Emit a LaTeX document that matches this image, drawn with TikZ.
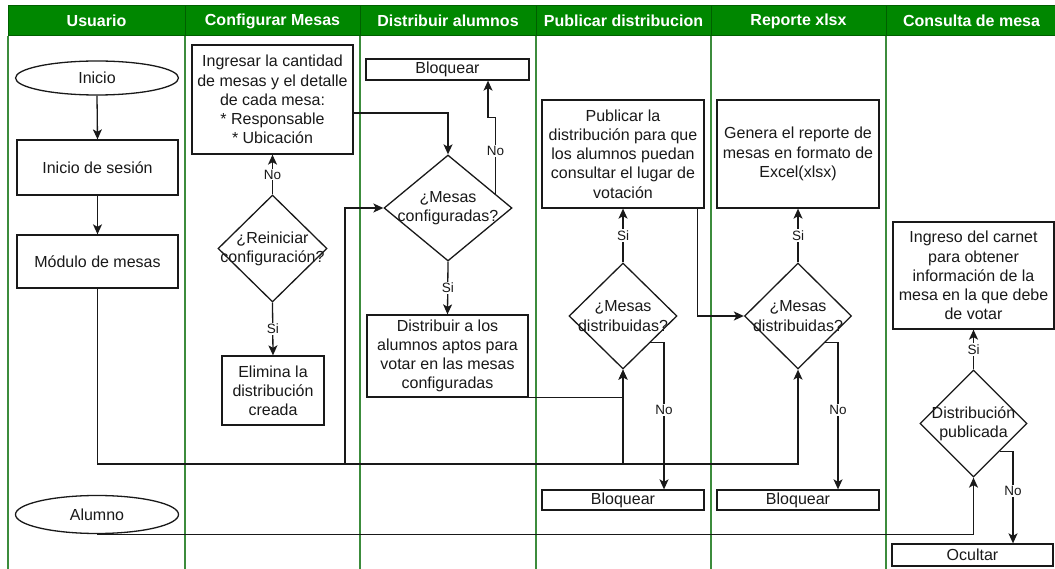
\documentclass[tikz,border=0pt]{standalone}
\usepackage{fontspec}
\setmainfont{Liberation Sans}
\usetikzlibrary{shapes.geometric,arrows.meta,calc}

\definecolor{hdrgreen}{RGB}{0,135,0}
\definecolor{hdrline}{RGB}{0,95,0}
\definecolor{lanegreen}{RGB}{60,140,60}
\definecolor{ink}{RGB}{25,25,25}

\begin{document}
\begin{tikzpicture}[x=1pt,y=-1pt,
  base/.style={font=\fontsize{16}{19.2}\selectfont, text=ink, align=center},
  box/.style={base, rectangle, draw=ink, line width=1.3pt, fill=white, inner sep=0pt},
  oval/.style={base, ellipse, draw=ink, line width=1.3pt, fill=white, inner sep=0pt},
  dia/.style={diamond, draw=ink, line width=1.3pt, fill=white, inner sep=0pt},
  dlabel/.style={base, inner sep=0pt},
  wire/.style={draw=ink, line width=1.3pt},
  arr/.style={wire, -{Stealth[length=10pt,width=9pt,inset=2.5pt]}},
  tag/.style={font=\fontsize{13.5}{15}\selectfont, text=ink, fill=white, inner sep=1.2pt},
  lanehead/.style={draw=hdrline, fill=hdrgreen, line width=1pt, text=white,
    font=\bfseries\fontsize{16}{19}\selectfont, minimum height=30pt, inner sep=0pt},
  laneline/.style={draw=lanegreen, line width=1.2pt},
]
\useasboundingbox (0,0) rectangle (1055,569);

% swimlane dividers
\foreach \lx in {8,185,360,536,711,886}
  \draw[laneline] (\lx,36) -- (\lx,572);

% swimlane headers
\node[lanehead, minimum width=177pt] (hUsuario)   at (96.5,21)  {Usuario};
\node[lanehead, minimum width=175pt] (hConfig)    at (272.5,21) {Configurar Mesas};
\node[lanehead, minimum width=176pt] (hDistrib)   at (448,21)   {Distribuir alumnos};
\node[lanehead, minimum width=175pt] (hPublicar)  at (623.5,21) {Publicar distribucion};
\node[lanehead, minimum width=175pt] (hReporte)   at (798.5,21) {Reporte xlsx};
\node[lanehead, minimum width=171pt] (hConsulta)  at (971.5,21) {Consulta de mesa};

% Usuario
\node[oval, minimum width=163pt, minimum height=34pt] (inicio) at (97,78) {Inicio};
\node[box, minimum width=161pt, minimum height=55pt] (sesion) at (97.5,167.5) {Inicio de sesión};
\node[box, minimum width=161pt, minimum height=53pt] (modulo) at (97.5,261.5) {Módulo de mesas};
\node[oval, minimum width=163pt, minimum height=38pt] (alumno) at (97,514.5) {Alumno};

% Configurar Mesas
\node[box, minimum width=161pt, minimum height=109pt] (ingresar) at (272.5,99.5)
  {Ingresar la cantidad\\de mesas y el detalle\\de cada mesa:\\* Responsable\\* Ubicación};
\node[dia, minimum width=109pt, minimum height=107pt,
  label={[dlabel]center:¿Reiniciar\\configuración?}] (reini) at (272.5,248.5) {};
\node[box, minimum width=102pt, minimum height=69pt] (elimina) at (273,390.5)
  {Elimina la\\distribución\\creada};

% Distribuir alumnos
\node[box, minimum width=163pt, minimum height=21pt] (bloq1) at (447.5,69.5) {Bloquear};
\node[dia, minimum width=128pt, minimum height=106pt,
  label={[dlabel]center:¿Mesas\\configuradas?}] (dconf) at (448,208) {};
\node[box, minimum width=161pt, minimum height=82pt] (distrib) at (447.5,356)
  {Distribuir a los\\alumnos aptos para\\votar en las mesas\\configuradas};

% Publicar distribucion
\node[box, minimum width=162pt, minimum height=108pt] (publicar) at (623,154)
  {Publicar la\\distribución para que\\los alumnos puedan\\consultar el lugar de\\votación};
\node[dia, minimum width=108pt, minimum height=106pt,
  label={[dlabel]center:¿Mesas\\distribuidas?}] (dpub) at (623,316) {};
\node[box, minimum width=162pt, minimum height=20pt] (bloq2) at (623,500) {Bloquear};

% Reporte xlsx
\node[box, minimum width=162pt, minimum height=108pt] (genera) at (798,154)
  {Genera el reporte de\\mesas en formato de\\Excel(xlsx)};
\node[dia, minimum width=107pt, minimum height=106pt,
  label={[dlabel]center:¿Mesas\\distribuidas?}] (drep) at (798,316) {};
\node[box, minimum width=162pt, minimum height=20pt] (bloq3) at (798,500) {Bloquear};

% Consulta de mesa
\node[box, minimum width=161pt, minimum height=107pt] (ingreso) at (973.5,275.5)
  {Ingreso del carnet\\para obtener\\información de la\\mesa en la que debe\\de votar};
\node[dia, minimum width=107pt, minimum height=107pt,
  label={[dlabel]center:Distribución\\publicada}] (dcons) at (973.5,423.5) {};
\node[box, minimum width=161pt, minimum height=22pt] (ocultar) at (972.5,555) {Ocultar};

% helper points on the shared bus and on diamond edges
\coordinate (bus) at (345,464);
\coordinate (confNo) at ($(dconf.north)!0.734!(dconf.east)$);
\coordinate (pubNo) at ($(dpub.east)!0.5!(dpub.south)$);
\coordinate (repNo) at ($(drep.east)!0.5!(drep.south)$);
\coordinate (consNo) at ($(dcons.east)!0.514!(dcons.south)$);

% Usuario flow
\draw[arr] (inicio.south) -- (sesion.north);
\draw[arr] (sesion.south) -- (modulo.north);
\draw[arr] (modulo.south) |- (bus) |- (dconf.west);
\draw[arr] (modulo.south) |- (dpub.south |- bus) -- (dpub.south);
\draw[arr] (modulo.south) |- (drep.south |- bus) -- (drep.south);

% Configurar Mesas flow
\draw[arr] ($(ingresar.east)+(0,13.5)$) -| (dconf.north);
\draw[arr] (reini.north) -- node[tag] {No} (ingresar.south);
\draw[arr] (reini.south) -- node[tag] {Si} (elimina.north);

% Distribuir alumnos flow
\draw[arr] (confNo) |- node[tag, pos=0.28] {No} ($(bloq1.south)+(40.5,37)$)
  -- ($(bloq1.south)+(40.5,0)$);
\draw[arr] (dconf.south) -- node[tag] {Si} (distrib.north);
\draw[arr] (distrib.south east) -| (dpub.south);

% Publicar distribucion flow
\draw[arr] (dpub.north) -- node[tag] {Si} (publicar.south);
\draw[arr] (pubNo) -| node[tag, pos=0.73] {No} ($(bloq2.north)+(41,0)$);
\draw[arr] ($(publicar.south east)+(-7,0)$) |- (drep.west);

% Reporte xlsx flow
\draw[arr] (drep.north) -- node[tag] {Si} (genera.south);
\draw[arr] (repNo) -| node[tag, pos=0.73] {No} ($(bloq3.north)+(40,0)$);

% Consulta de mesa flow
\draw[arr] (alumno.south) -| (dcons.south);
\draw[arr] (dcons.north) -- node[tag] {Si} (ingreso.south);
\draw[arr] (consNo) -| node[tag, pos=0.715] {No} ($(ocultar.north)+(40.5,0)$);

\end{tikzpicture}
\end{document}
